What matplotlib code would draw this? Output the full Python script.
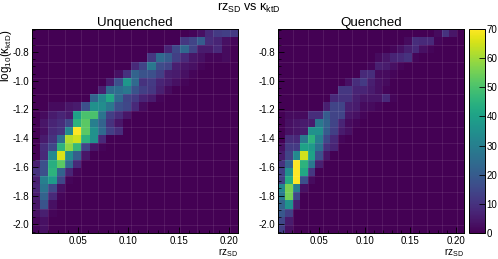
import numpy as np
import matplotlib
matplotlib.use('Agg')
import matplotlib.pyplot as plt

plt.rcParams['font.family'] = ['Liberation Sans', 'DejaVu Sans']
plt.rcParams['mathtext.fontset'] = 'custom'
plt.rcParams['mathtext.rm'] = 'Liberation Sans'
plt.rcParams['mathtext.it'] = 'Liberation Sans'
plt.rcParams['mathtext.default'] = 'rm'

# bin edges
x_edges = np.linspace(0.0045, 0.209, 26)
y_edges = np.linspace(-2.06, -0.64, 26)

x_ticks = [0.05, 0.10, 0.15, 0.20]
y_ticks = [-2.0, -1.8, -1.6, -1.4, -1.2, -1.0, -0.8]
cbar_ticks = [0, 10, 20, 30, 40, 50, 60, 70]

# rows go from the top of the plot to the bottom
unquenched = [
    [0, 0, 0, 0, 0, 0, 0, 0, 0, 0, 0, 0, 0, 0, 0, 0, 0, 0, 0, 1, 3, 8, 12, 13, 12],
    [0, 0, 0, 0, 0, 0, 0, 0, 0, 0, 0, 0, 0, 0, 0, 0, 0, 0, 11, 14, 20, 9, 7, 3, 1],
    [0, 0, 0, 0, 0, 0, 0, 0, 0, 0, 0, 0, 0, 0, 0, 0, 7, 15, 23, 14, 5, 5, 8, 2, 0],
    [0, 0, 0, 0, 0, 0, 0, 0, 0, 0, 0, 0, 0, 0, 11, 24, 20, 13, 8, 4, 3, 1, 1, 2, 0],
    [0, 0, 0, 0, 0, 0, 0, 0, 0, 0, 0, 0, 8, 14, 28, 16, 14, 6, 4, 3, 1, 0, 0, 0, 0],
    [0, 0, 0, 0, 0, 0, 0, 0, 0, 0, 3, 10, 22, 18, 17, 13, 6, 5, 3, 1, 0, 0, 0, 0, 0],
    [0, 0, 0, 0, 0, 0, 0, 0, 0, 5, 17, 37, 24, 10, 12, 7, 5, 3, 1, 0, 0, 0, 0, 0, 0],
    [0, 0, 0, 0, 0, 0, 0, 0, 6, 24, 25, 28, 18, 13, 11, 6, 2, 0, 0, 0, 0, 0, 0, 0, 0],
    [0, 0, 0, 0, 0, 0, 0, 22, 32, 42, 24, 14, 12, 7, 5, 1, 0, 0, 0, 0, 0, 0, 0, 0, 0],
    [0, 0, 2, 2, 4, 5, 17, 35, 34, 28, 17, 15, 8, 2, 0, 0, 0, 0, 0, 0, 0, 0, 0, 0, 0],
    [0, 2, 5, 7, 5, 40, 50, 50, 27, 13, 9, 4, 0, 0, 0, 0, 0, 0, 0, 0, 0, 0, 0, 0, 0],
    [0, 4, 7, 9, 15, 45, 52, 30, 22, 10, 4, 0, 0, 0, 0, 0, 0, 0, 0, 0, 0, 0, 0, 0, 0],
    [0, 3, 8, 10, 33, 70, 52, 35, 24, 13, 9, 0, 0, 0, 0, 0, 0, 0, 0, 0, 0, 0, 0, 0, 0],
    [0, 5, 10, 25, 62, 65, 45, 35, 8, 0, 0, 0, 0, 0, 0, 0, 0, 0, 0, 0, 0, 0, 0, 0, 0],
    [0, 9, 15, 45, 58, 47, 14, 4, 1, 0, 0, 0, 0, 0, 0, 0, 0, 0, 0, 0, 0, 0, 0, 0, 0],
    [0, 8, 33, 66, 34, 21, 4, 0, 0, 0, 0, 0, 0, 0, 0, 0, 0, 0, 0, 0, 0, 0, 0, 0, 0],
    [6, 17, 44, 52, 24, 8, 0, 0, 0, 0, 0, 0, 0, 0, 0, 0, 0, 0, 0, 0, 0, 0, 0, 0, 0],
    [10, 17, 45, 22, 7, 1, 0, 0, 0, 0, 0, 0, 0, 0, 0, 0, 0, 0, 0, 0, 0, 0, 0, 0, 0],
    [6, 30, 38, 15, 1, 0, 0, 0, 0, 0, 0, 0, 0, 0, 0, 0, 0, 0, 0, 0, 0, 0, 0, 0, 0],
    [7, 27, 15, 3, 0, 0, 0, 0, 0, 0, 0, 0, 0, 0, 0, 0, 0, 0, 0, 0, 0, 0, 0, 0, 0],
    [5, 22, 8, 1, 0, 0, 0, 0, 0, 0, 0, 0, 0, 0, 0, 0, 0, 0, 0, 0, 0, 0, 0, 0, 0],
    [4, 18, 3, 0, 0, 0, 0, 0, 0, 0, 0, 0, 0, 0, 0, 0, 0, 0, 0, 0, 0, 0, 0, 0, 0],
    [3, 6, 1, 0, 0, 0, 0, 0, 0, 0, 0, 0, 0, 0, 0, 0, 0, 0, 0, 0, 0, 0, 0, 0, 0],
    [1, 3, 0, 0, 0, 0, 0, 0, 0, 0, 0, 0, 0, 0, 0, 0, 0, 0, 0, 0, 0, 0, 0, 0, 0],
    [1, 3, 0, 0, 0, 0, 0, 0, 0, 0, 0, 0, 0, 0, 0, 0, 0, 0, 0, 0, 0, 0, 0, 0, 0],
]

quenched = [
    [0, 0, 0, 0, 0, 0, 0, 0, 0, 0, 0, 0, 0, 0, 0, 0, 0, 0, 0, 0, 0, 2, 10, 4, 0],
    [0, 0, 0, 0, 0, 0, 0, 0, 0, 0, 0, 0, 0, 0, 0, 0, 0, 2, 9, 8, 8, 1, 0, 0, 0],
    [0, 0, 0, 0, 0, 0, 0, 0, 0, 0, 0, 0, 0, 0, 0, 1, 3, 6, 8, 3, 1, 0, 0, 0, 0],
    [0, 0, 0, 0, 0, 0, 0, 0, 0, 0, 0, 0, 0, 2, 4, 7, 8, 10, 1, 0, 0, 0, 0, 0, 0],
    [0, 0, 0, 0, 0, 0, 0, 0, 0, 0, 0, 0, 1, 6, 5, 3, 1, 0, 0, 0, 0, 0, 0, 0, 0],
    [0, 0, 0, 0, 0, 0, 0, 0, 0, 0, 0, 8, 9, 2, 2, 1, 0, 0, 0, 0, 0, 0, 0, 0, 0],
    [0, 0, 0, 0, 0, 0, 0, 0, 0, 3, 9, 12, 6, 3, 2, 0, 0, 0, 0, 0, 0, 0, 0, 0, 0],
    [0, 0, 0, 0, 0, 0, 0, 0, 11, 11, 7, 7, 5, 3, 1, 0, 0, 0, 0, 0, 0, 0, 0, 0, 0],
    [0, 0, 0, 0, 0, 0, 0, 8, 10, 10, 6, 4, 4, 4, 8, 1, 0, 0, 0, 0, 0, 0, 0, 0, 0],
    [0, 0, 0, 0, 0, 0, 6, 14, 14, 6, 5, 2, 2, 1, 0, 0, 0, 0, 0, 0, 0, 0, 0, 0, 0],
    [0, 2, 2, 2, 9, 9, 20, 14, 14, 4, 3, 1, 0, 0, 0, 0, 0, 0, 0, 0, 0, 0, 0, 0, 0],
    [0, 3, 4, 5, 5, 28, 22, 14, 7, 2, 1, 0, 0, 0, 0, 0, 0, 0, 0, 0, 0, 0, 0, 0, 0],
    [0, 3, 4, 5, 35, 35, 20, 13, 5, 3, 0, 0, 0, 0, 0, 0, 0, 0, 0, 0, 0, 0, 0, 0, 0],
    [0, 9, 8, 28, 45, 30, 15, 8, 1, 0, 0, 0, 0, 0, 0, 0, 0, 0, 0, 0, 0, 0, 0, 0, 0],
    [3, 12, 12, 40, 38, 26, 10, 7, 0, 0, 0, 0, 0, 0, 0, 0, 0, 0, 0, 0, 0, 0, 0, 0, 0],
    [5, 14, 33, 65, 40, 17, 4, 0, 0, 0, 0, 0, 0, 0, 0, 0, 0, 0, 0, 0, 0, 0, 0, 0, 0],
    [10, 22, 70, 45, 28, 6, 0, 0, 0, 0, 0, 0, 0, 0, 0, 0, 0, 0, 0, 0, 0, 0, 0, 0, 0],
    [13, 35, 70, 42, 11, 0, 0, 0, 0, 0, 0, 0, 0, 0, 0, 0, 0, 0, 0, 0, 0, 0, 0, 0, 0],
    [13, 43, 70, 17, 2, 0, 0, 0, 0, 0, 0, 0, 0, 0, 0, 0, 0, 0, 0, 0, 0, 0, 0, 0, 0],
    [32, 56, 30, 3, 0, 0, 0, 0, 0, 0, 0, 0, 0, 0, 0, 0, 0, 0, 0, 0, 0, 0, 0, 0, 0],
    [28, 55, 15, 0, 0, 0, 0, 0, 0, 0, 0, 0, 0, 0, 0, 0, 0, 0, 0, 0, 0, 0, 0, 0, 0],
    [22, 36, 6, 0, 0, 0, 0, 0, 0, 0, 0, 0, 0, 0, 0, 0, 0, 0, 0, 0, 0, 0, 0, 0, 0],
    [19, 13, 0, 0, 0, 0, 0, 0, 0, 0, 0, 0, 0, 0, 0, 0, 0, 0, 0, 0, 0, 0, 0, 0, 0],
    [15, 5, 0, 0, 0, 0, 0, 0, 0, 0, 0, 0, 0, 0, 0, 0, 0, 0, 0, 0, 0, 0, 0, 0, 0],
    [13, 3, 0, 0, 0, 0, 0, 0, 0, 0, 0, 0, 0, 0, 0, 0, 0, 0, 0, 0, 0, 0, 0, 0, 0],
]

W, H = 498.0, 259.0


def makeAxes(x0, x1, y0, y1):
    return fig.add_axes([x0 / W, 1 - y1 / H, (x1 - x0) / W, (y1 - y0) / H])


def drawPanel(ax, values, title):
    grid = np.array(values, dtype=float)[::-1]
    mesh = ax.pcolormesh(x_edges, y_edges, grid, cmap='viridis', vmin=0, vmax=70, rasterized=True)
    # faint lines on every other bin edge
    for x in x_edges[::2]:
        ax.axvline(x, color='white', alpha=0.1, lw=0.6)
    for y in y_edges[1::2]:
        ax.axhline(y, color='white', alpha=0.1, lw=0.6)
    ax.set_xticks(x_ticks)
    ax.set_xticklabels(['%.2f' % t for t in x_ticks])
    ax.set_yticks(y_ticks)
    ax.set_yticklabels(['%.1f' % t for t in y_ticks])
    ax.minorticks_on()
    ax.tick_params(which='major', direction='in', length=4, width=0.6, labelsize=7, top=False, right=False, pad=2)
    ax.tick_params(which='minor', direction='in', length=2, width=0.5)
    ax.set_title(title, fontsize=9.6, pad=2)
    ax.set_xlabel(r'$rz_{SD}$', fontsize=7.2, loc='right', labelpad=0)
    for s in ax.spines.values():
        s.set_linewidth(0.7)
    return mesh


fig = plt.figure(figsize=(4.98, 2.59), dpi=100)

ax_left = makeAxes(32, 238, 29, 233)
ax_right = makeAxes(278, 464, 29, 233)
cax = makeAxes(469, 485, 29, 233)

drawPanel(ax_left, unquenched, 'Unquenched')
ax_left.set_ylabel(r'$log_{10}(\kappa_{ktD})$', fontsize=8.4, loc='top')
ax_left.yaxis.set_label_coords(-0.088, 1.0)
mesh = drawPanel(ax_right, quenched, 'Quenched')

cbar = fig.colorbar(mesh, cax=cax)
cbar.set_ticks(cbar_ticks)
cbar.ax.tick_params(which='major', direction='in', length=4, width=0.6, labelsize=7, pad=1)
cbar.outline.set_linewidth(0.7)

fig.text(0.5, 1 - 8 / H, r'$rz_{SD}$ vs $\kappa_{ktD}$', fontsize=9, ha='center', va='center')

fig.savefig('out.png', dpi=100)
